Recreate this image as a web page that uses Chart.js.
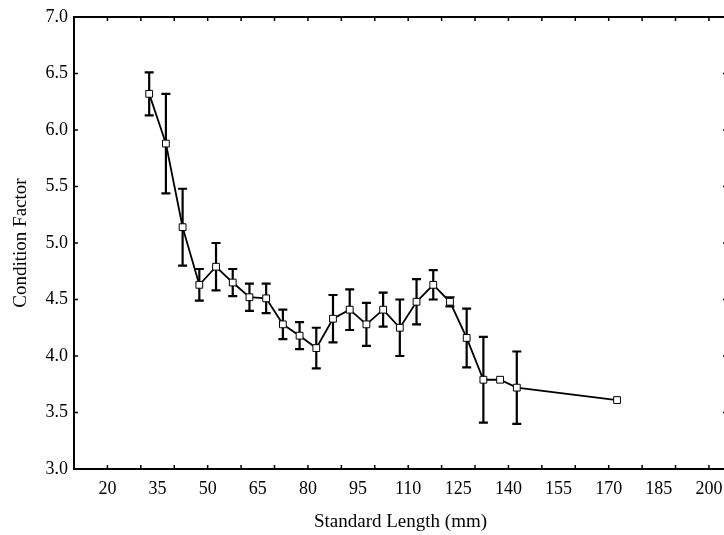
<!DOCTYPE html>
<html>
<head>
<meta charset="utf-8">
<script src="https://cdn.jsdelivr.net/npm/chart.js@4/dist/chart.umd.min.js"></script>
<style>
  html, body { margin:0; padding:0; background:#fff; overflow:hidden; }
  #wrap { width:740px; height:535px; }
</style>
</head>
<body>
<div id="wrap"><canvas id="c" width="740" height="535"></canvas></div>
<script>
// ---- data ----
const lengths   = [32.5, 37.5, 42.5, 47.5, 52.5, 57.5, 62.5, 67.5, 72.5, 77.5, 82.5, 87.5,
                   92.5, 97.5, 102.5, 107.5, 112.5, 117.5, 122.5, 127.5, 132.5, 137.5, 142.5, 172.5];
const condition = [6.32, 5.88, 5.14, 4.63, 4.79, 4.65, 4.52, 4.51, 4.28, 4.18, 4.07, 4.33,
                   4.41, 4.28, 4.41, 4.25, 4.48, 4.63, 4.48, 4.16, 3.79, 3.79, 3.72, 3.61];
const stdErr    = [0.19, 0.44, 0.34, 0.14, 0.21, 0.12, 0.12, 0.13, 0.13, 0.12, 0.18, 0.21,
                   0.18, 0.19, 0.15, 0.25, 0.20, 0.13, 0.04, 0.26, 0.38, null, 0.32, null];
// ---- axis ticks ----
const xTickLabels = [20, 35, 50, 65, 80, 95, 110, 125, 140, 155, 170, 185, 200];
const xTickMarks  = [20, 30, 40, 50, 60, 70, 80, 90, 100, 110, 120, 130, 140, 150, 160, 170, 180, 190, 200];
const yTickLabels = [3.0, 3.5, 4.0, 4.5, 5.0, 5.5, 6.0, 6.5, 7.0];

const FONT = "'Liberation Serif', 'Times New Roman', serif";

const points = lengths.map((x, i) => ({ x: x, y: condition[i] }));

const decorPlugin = {
  id: 'decor',
  beforeDatasetsDraw(chart) {
    const { ctx } = chart;
    const xs = chart.scales.x, ys = chart.scales.y;
    ctx.save();
    ctx.strokeStyle = '#000';
    ctx.lineWidth = 2.2;
    lengths.forEach((x, i) => {
      const e = stdErr[i];
      if (e == null) return;
      const px = xs.getPixelForValue(x);
      const top = ys.getPixelForValue(condition[i] + e);
      const bot = ys.getPixelForValue(condition[i] - e);
      ctx.beginPath();
      ctx.moveTo(px, top); ctx.lineTo(px, bot);
      ctx.moveTo(px - 4.5, top); ctx.lineTo(px + 4.5, top);
      ctx.moveTo(px - 4.5, bot); ctx.lineTo(px + 4.5, bot);
      ctx.stroke();
    });
    ctx.restore();
  },
  afterDraw(chart) {
    const { ctx, chartArea: a } = chart;
    const xs = chart.scales.x, ys = chart.scales.y;
    ctx.save();
    ctx.strokeStyle = '#000';
    ctx.lineWidth = 2;
    ctx.strokeRect(a.left, a.top, a.right - a.left, a.bottom - a.top);
    ctx.lineWidth = 1.5;
    ctx.beginPath();
    const tl = 4;
    xTickMarks.forEach(v => {
      const px = xs.getPixelForValue(v);
      ctx.moveTo(px, a.bottom); ctx.lineTo(px, a.bottom - tl);
      ctx.moveTo(px, a.top); ctx.lineTo(px, a.top + tl);
    });
    yTickLabels.forEach(v => {
      const py = ys.getPixelForValue(v);
      ctx.moveTo(a.left, py); ctx.lineTo(a.left + tl, py);
      ctx.moveTo(a.right, py); ctx.lineTo(a.right - tl, py);
    });
    ctx.stroke();
    ctx.restore();
  }
};

new Chart(document.getElementById('c'), {
  type: 'scatter',
  data: {
    datasets: [{
      data: points,
      showLine: true,
      borderColor: '#000',
      borderWidth: 1.8,
      tension: 0,
      pointStyle: 'rect',
      pointRadius: 4.8,
      pointBackgroundColor: '#fff',
      pointBorderColor: '#000',
      pointBorderWidth: 1
    }]
  },
  options: {
    responsive: false,
    animation: false,
    layout: { padding: { top: 17, right: 13, left: 0, bottom: 0 } },
    plugins: { legend: { display: false }, tooltip: { enabled: false } },
    scales: {
      x: {
        type: 'linear',
        min: 10, max: 205.4,
        border: { display: false },
        grid: { display: false, drawTicks: false },
        afterFit(s) { s.height = 66; },
        afterBuildTicks(s) { s.ticks = xTickLabels.map(v => ({ value: v })); },
        ticks: {
          autoSkip: false, maxRotation: 0, padding: 9,
          color: '#000',
          font: { family: FONT, size: 18 },
          callback: v => String(v)
        },
        title: {
          display: true, text: 'Standard Length (mm)', color: '#000',
          font: { family: FONT, size: 19, lineHeight: 1.2 },
          padding: { top: 0, bottom: 2 }
        }
      },
      y: {
        type: 'linear',
        min: 3, max: 7,
        border: { display: false },
        grid: { display: false, drawTicks: false },
        afterFit(s) { s.width = 74; },
        afterBuildTicks(s) { s.ticks = yTickLabels.map(v => ({ value: v })); },
        ticks: {
          autoSkip: false, padding: 6,
          color: '#000',
          font: { family: FONT, size: 18 },
          callback: v => Number(v).toFixed(1)
        },
        title: {
          display: true, text: 'Condition Factor', color: '#000',
          font: { family: FONT, size: 19, lineHeight: 1.2 },
          padding: { top: 10, bottom: 0 }
        }
      }
    }
  },
  plugins: [decorPlugin]
});
</script>
</body>
</html>
